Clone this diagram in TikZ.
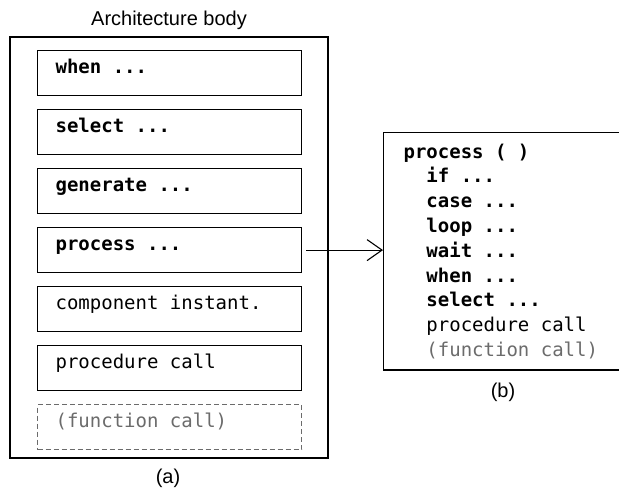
\documentclass[tikz,border=0pt]{standalone}
\usepackage{fontspec}
\setmainfont{Liberation Sans}
\setmonofont{DejaVu Sans Mono}
\usetikzlibrary{arrows.meta}
\definecolor{callgray}{gray}{0.42}
\newcommand\vhdl{\ttfamily\fontsize{19}{24.8}\selectfont}
\newcommand\ind{\hphantom{xx}}
\tikzset{
  stmt/.style={draw,line width=1.2pt,anchor=north west,minimum width=264pt,inner xsep=18pt,inner ysep=0pt,
    text width=228pt,align=flush left,text height=22.5pt,text depth=22.5pt,font=\vhdl},
  caption/.style={font=\fontsize{20}{22}\selectfont,inner sep=0pt},
}

\begin{document}
\begin{tikzpicture}[x=1pt,y=-1pt]
\clip (0,0) rectangle (619,491);
\node[caption] (title) at (169,20) {Architecture body};
\draw[line width=2pt] (10,37) rectangle (328,458);
\node[stmt] (when) at (37,50) {\textbf{when ...}};
\node[stmt] (select) at (37,109) {\textbf{select ...}};
\node[stmt] (generate) at (37,168) {\textbf{generate ...}};
\node[stmt] (process) at (37,227) {\textbf{process ...}};
\node[stmt] (comp) at (37,286) {component instant.};
\node[stmt] (pcall) at (37,345) {procedure call};
\node[stmt,draw=callgray,dash pattern=on 5pt off 3pt,text=callgray] (fcall) at (37,404) {(function call)};
\node[caption] (capa) at (168,478) {(a)};
\node[draw,line width=1.2pt,anchor=north west,text width=250pt,inner xsep=20pt,inner ysep=11pt,align=flush left,font=\vhdl] (procbody) at (383,132) {%
\textbf{process ( )}\\
\ind\textbf{if ...}\\
\ind\textbf{case ...}\\
\ind\textbf{loop ...}\\
\ind\textbf{wait ...}\\
\ind\textbf{when ...}\\
\ind\textbf{select ...}\\
\ind procedure call\\
\ind\textcolor{callgray}{(function call)}};
\node[caption] (capb) at (503,392) {(b)};
\draw[line width=1.1pt,shorten <=4pt,-{Straight Barb[length=15pt,width=21pt,line width=1.1pt]}] (process.east) -- (process.east -| procbody.west);
\end{tikzpicture}
\end{document}
